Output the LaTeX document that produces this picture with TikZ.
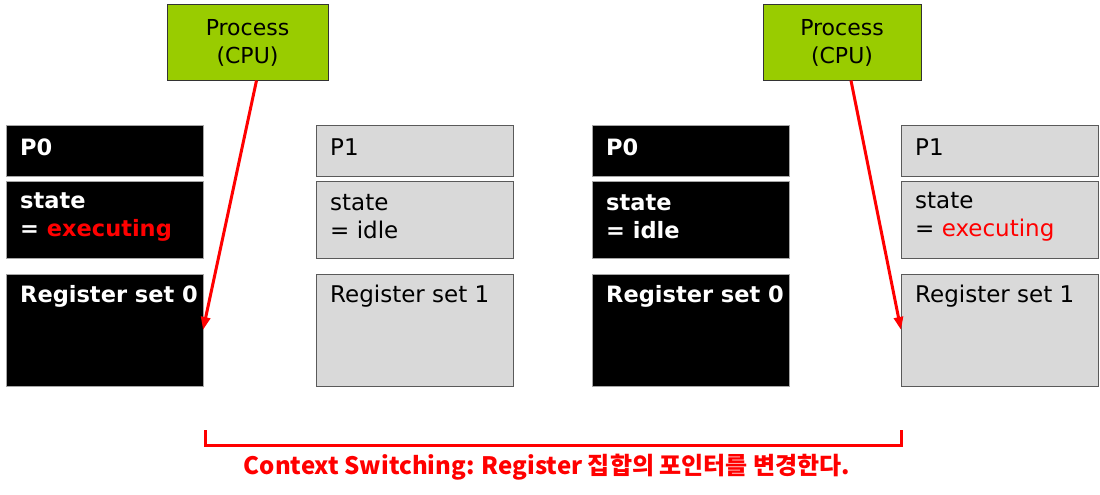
\documentclass[tikz,border=0pt]{standalone}
\usepackage{fontspec}
\setmainfont{DejaVu Sans}
\newfontfamily\kofont{Noto Sans CJK KR}
\usepackage{tikz}
\usetikzlibrary{arrows.meta}

\definecolor{cpugreen}{RGB}{153,204,0}
\definecolor{boxgray}{RGB}{217,217,217}
\definecolor{edgegray}{RGB}{90,90,90}

\begin{document}
\begin{tikzpicture}[x=1pt,y=-1pt,
  blackbox/.style={draw=gray!70,fill=black,line width=1pt},
  graybox/.style={draw=edgegray,fill=boxgray,line width=1pt},
  cpubox/.style={draw=black!80,fill=cpugreen,line width=1pt,align=center,
    font=\fontsize{22}{28}\selectfont,inner sep=0pt},
  txt/.style={anchor=west,inner sep=0pt,align=left,font=\fontsize{23}{28}\selectfont},
  wtxt/.style={txt,text=white,font=\fontsize{22.5}{28}\selectfont\bfseries},
  ptr/.style={red,line width=3pt,-{Triangle[length=13pt,width=9pt]}}]
\useasboundingbox (0,0) rectangle (1100,495);

% process boxes
\node[cpubox,minimum width=161pt,minimum height=75pt] (cpuA) at (247.5,42.5) {Process\\(CPU)};
\node[cpubox,minimum width=158pt,minimum height=75pt] (cpuB) at (842,42.5) {Process\\(CPU)};

% before the switch
\draw[blackbox] (6,125) rectangle (203,176);
\draw[blackbox] (6,181) rectangle (203,258);
\draw[blackbox] (6,274) rectangle (203,386);
\coordinate (regA0) at (203,330);
\node[wtxt] (pA0) at (20,147) {P0};
\node[wtxt] (stA0) at (20,217) {state\\= \textcolor{red}{executing}};
\node[wtxt] (rsA0) at (20,296) {Register set 0};

\draw[graybox] (316,125) rectangle (513,176);
\draw[graybox] (316,181) rectangle (513,258);
\draw[graybox] (316,274) rectangle (513,386);
\node[txt] (pA1) at (330,147) {P1};
\node[txt] (stA1) at (330,217) {state\\= idle};
\node[txt] (rsA1) at (330,296) {Register set 1};

% after the switch
\draw[blackbox] (592,125) rectangle (789,176);
\draw[blackbox] (592,181) rectangle (789,258);
\draw[blackbox] (592,274) rectangle (789,386);
\node[wtxt] (pB0) at (606,147) {P0};
\node[wtxt] (stB0) at (606,217) {state\\= idle};
\node[wtxt] (rsB0) at (606,296) {Register set 0};

\draw[graybox] (901,125) rectangle (1098,176);
\draw[graybox] (901,181) rectangle (1098,258);
\draw[graybox] (901,274) rectangle (1098,386);
\coordinate (regB1) at (901,330);
\node[txt] (pB1) at (915,147) {P1};
\node[txt] (stB1) at (915,217) {state\\= \textcolor{red}{executing}};
\node[txt] (rsB1) at (915,296) {Register set 1};

% register pointers
\draw[ptr] ([xshift=9pt]cpuA.south) -- (regA0);
\draw[ptr] ([xshift=9pt]cpuB.south) -- (regB1);

% bracket
\coordinate (brL) at (205,430);
\coordinate (brR) at (901,430);
\draw[red,line width=3pt] (brL) -- ++(0,15) -| (brR);
\node[text=red,inner sep=0pt,font=\kofont\bfseries\fontsize{24}{28}\selectfont] (note) at (547,467)
  {Context Switching: Register 집합의 포인터를 변경한다.};
\end{tikzpicture}
\end{document}
